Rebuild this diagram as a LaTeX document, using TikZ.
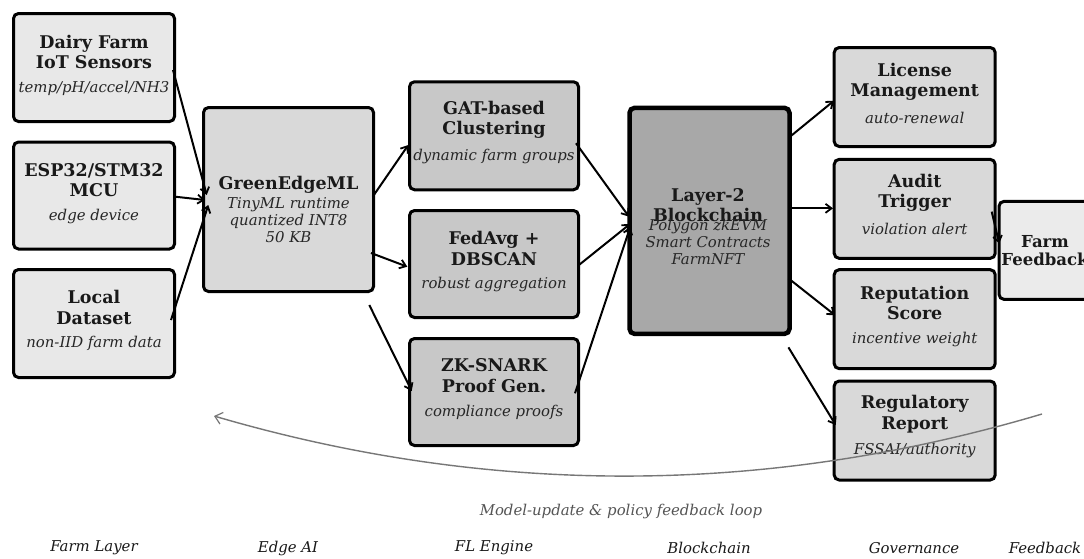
\documentclass[tikz,border=0pt]{standalone}
\usepackage{fontspec}
\setmainfont{DejaVu Serif}
\usetikzlibrary{arrows.meta}
\definecolor{farmfill}{HTML}{E8E8E8}
\definecolor{gefill}{HTML}{D9D9D9}
\definecolor{flfill}{HTML}{C8C8C8}
\definecolor{bcfill}{HTML}{A8A8A8}
\definecolor{govfill}{HTML}{D9D9D9}
\definecolor{fbfill}{HTML}{EBEBEB}
\definecolor{loopgray}{HTML}{777777}
\definecolor{capgray}{HTML}{555555}
\begin{document}
\begin{tikzpicture}[x=1pt,y=-1pt,
  box/.style={draw=black,line width=3pt,rounded corners=5pt,inner sep=0pt},
  ttl/.style={align=center,font=\fontsize{17.5}{20.5}\selectfont\bfseries,inner sep=0pt,text=black!90},
  sub/.style={align=center,font=\fontsize{14.9}{17}\selectfont\itshape,inner sep=0pt,text=black!85},
  conn/.style={draw=black,line width=2pt,-{Straight Barb[length=6pt,width=9pt,line width=1.8pt]}},
  fbloop/.style={draw=loopgray,line width=1.4pt,-{Straight Barb[length=7pt,width=12pt,line width=1.2pt]}},
  caption/.style={font=\fontsize{14.9}{17}\selectfont\itshape,text=capgray,inner sep=0pt},
  layer/.style={font=\fontsize{14.9}{17}\selectfont\itshape,text=black!90,inner sep=0pt}]
\useasboundingbox (0,0) rectangle (1084,558);
\fill[white] (0,0) rectangle (1084,558);

% Farm layer
\node[box,fill=farmfill,minimum width=161pt,minimum height=108pt] (dairy) at (94,67.5) {};
\node[ttl] (dairyT) at (94,52) {Dairy Farm\\IoT Sensors};
\node[sub] (dairyS) at (94,88) {temp/pH/accel/NH3};

\node[box,fill=farmfill,minimum width=161pt,minimum height=107pt] (esp) at (94,195.5) {};
\node[ttl] (espT) at (94,180) {ESP32/STM32\\MCU};
\node[sub] (espS) at (94,216.5) {edge device};

\node[box,fill=farmfill,minimum width=161pt,minimum height=108pt] (local) at (94,323.5) {};
\node[ttl] (localT) at (94,307.5) {Local\\Dataset};
\node[sub] (localS) at (94,343) {non-IID farm data};

% Edge AI
\node[box,fill=gefill,minimum width=170pt,minimum height=184pt] (ge) at (288.5,199.5) {};
\node[ttl] (geT) at (288.5,185) {GreenEdgeML};
\node[sub] (geS) at (288.5,220) {TinyML runtime\\quantized INT8\\50 KB};

% FL engine
\node[box,fill=flfill,minimum width=169pt,minimum height=108pt] (gat) at (494,135.75) {};
\node[ttl] (gatT) at (494,120) {GAT-based\\Clustering};
\node[sub] (gatS) at (494,156.7) {dynamic farm groups};

\node[box,fill=flfill,minimum width=169pt,minimum height=107pt] (fed) at (494,264) {};
\node[ttl] (fedT) at (494,248.7) {FedAvg +\\DBSCAN};
\node[sub] (fedS) at (494,284) {robust aggregation};

\node[box,fill=flfill,minimum width=169pt,minimum height=107pt] (zk) at (494,392) {};
\node[ttl] (zkT) at (494,375.5) {ZK-SNARK\\Proof Gen.};
\node[sub] (zkS) at (494,412.3) {compliance proofs};

% Blockchain
\node[box,fill=bcfill,line width=4.5pt,minimum width=160pt,minimum height=226pt] (l2) at (709.5,220.85) {};
\node[ttl] (l2T) at (708,205) {Layer-2\\Blockchain};
\node[sub] (l2S) at (708,242) {Polygon zkEVM\\Smart Contracts\\FarmNFT};

% Governance
\node[box,fill=govfill,minimum width=161pt,minimum height=99pt] (lic) at (914.7,97) {};
\node[ttl] (licT) at (914.7,82) {License\\Management};
\node[sub] (licS) at (914.7,118.3) {auto-renewal};

\node[box,fill=govfill,minimum width=161pt,minimum height=99pt] (aud) at (914.7,208.85) {};
\node[ttl] (audT) at (914.7,193) {Audit\\Trigger};
\node[sub] (audS) at (914.7,229) {violation alert};

\node[box,fill=govfill,minimum width=161pt,minimum height=99pt] (rep) at (914.7,319.15) {};
\node[ttl] (repT) at (914.7,302.8) {Reputation\\Score};
\node[sub] (repS) at (914.7,339.3) {incentive weight};

\node[box,fill=govfill,minimum width=161pt,minimum height=99pt] (reg) at (914.7,430.5) {};
\node[ttl] (regT) at (914.7,414.2) {Regulatory\\Report};
\node[sub] (regS) at (914.7,450.7) {FSSAI/authority};

% Feedback
\node[box,fill=fbfill,minimum width=92pt,minimum height=98pt] (fb) at (1045,250.35) {};
\node[ttl,font=\fontsize{16.5}{18}\selectfont\bfseries] (fbT) at (1045,251) {Farm\\Feedback};

% connectors
\draw[conn] ([shift={(-3,2.5)}]dairy.east) -- ([shift={(4.7,-4.5)}]ge.west);
\draw[conn] ([shift={(-2.5,1)}]esp.east) -- ([shift={(3,0.5)}]ge.west);
\draw[conn] ([shift={(-5,-3.5)}]local.east) -- ([shift={(6.3,5.5)}]ge.west);
\draw[conn] ([shift={(-2.3,-2.8)}]ge.east) -- ([shift={(0.3,9.25)}]gat.west);
\draw[conn] ([shift={(-4,53.5)}]ge.east) -- ([shift={(-0.7,2.7)}]fed.west);
\draw[conn] ([shift={(-5.7,105.5)}]ge.east) -- ([shift={(3.7,-1)}]zk.west);
\draw[conn] ([shift={(-4,7.5)}]gat.east) -- ([shift={(1.7,-4.2)}]l2.west);
\draw[conn] ([shift={(-2.3,2)}]fed.east) -- ([shift={(2.7,3.2)}]l2.west);
\draw[conn] ([shift={(-5,1.3)}]zk.east) -- ([shift={(3,6)}]l2.west);
\draw[conn] ([shift={(-1.7,-84.2)}]l2.east) -- ([shift={(1.3,3.7)}]lic.west);
\draw[conn] ([shift={(-2,-12.5)}]l2.east) -- ([shift={(0.3,-0.5)}]aud.west);
\draw[conn] ([shift={(-3.3,57.5)}]l2.east) -- ([shift={(2.3,-4)}]rep.west);
\draw[conn] ([shift={(-3.3,126.5)}]l2.east) -- ([shift={(3,-5.5)}]reg.west);
\draw[conn] ([shift={(-5,2.8)}]aud.east) -- ([shift={(1.7,-7)}]fb.west);

% feedback loop
\coordinate (loopS) at (1042,414);
\coordinate (loopE) at (214,416);
\draw[fbloop] (loopS) .. controls (766,496) and (490,496.7) .. (loopE);
\node[caption] (cap) at (621,511.5) {Model-update \& policy feedback loop};

% layer labels
\node[layer] (lab1) at (94,548) {Farm Layer};
\node[layer] (lab2) at (288,548) {Edge AI};
\node[layer] (lab3) at (494,548) {FL Engine};
\node[layer] (lab4) at (709,548) {Blockchain};
\node[layer] (lab5) at (914,548) {Governance};
\node[layer] (lab6) at (1045,548) {Feedback};
\end{tikzpicture}
\end{document}
